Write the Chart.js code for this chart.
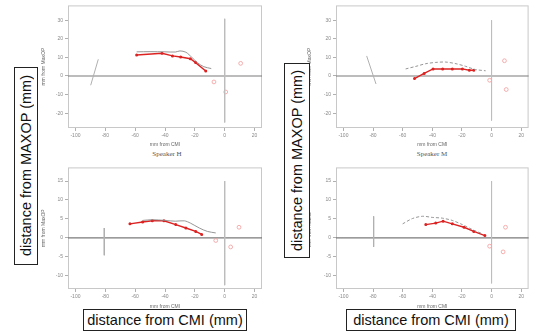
<!DOCTYPE html>
<html>
<head>
<meta charset="utf-8">
<script src="https://cdn.jsdelivr.net/npm/chart.js@4.4.1/dist/chart.umd.min.js"></script>
<style>
  body { margin: 0; background: #fff; width: 534px; height: 331px; overflow: hidden; position: relative; font-family: "Liberation Sans", Arial, sans-serif; }
  canvas { position: absolute; }
  .speaker { position: absolute; font-family: "Liberation Serif", "DejaVu Serif", serif; font-size: 7px; color: #555; transform: translateX(-50%); white-space: nowrap; }
  .bigbox { position: absolute; border: 1.5px solid #222; background: #fff; box-sizing: border-box; font-size: 14.5px; color: #111; display: flex; align-items: center; justify-content: center; white-space: nowrap; }
  .vert span { writing-mode: vertical-rl; transform: rotate(180deg); }
</style>
</head>
<body>
<canvas id="tl" width="228" height="150" style="left:40px;top:0px"></canvas>
<canvas id="tr" width="228" height="150" style="left:306px;top:0px"></canvas>
<canvas id="bl" width="228" height="150" style="left:40px;top:162px"></canvas>
<canvas id="br" width="228" height="150" style="left:306px;top:162px"></canvas>

<div class="speaker" style="left:167px;top:150px">Speaker H</div>
<div class="speaker" style="left:432px;top:150px">Speaker M</div>

<div class="bigbox vert" style="left:14px;top:67px;width:24px;height:198px"><span>distance from MAXOP (mm)</span></div>
<div class="bigbox vert" style="left:284px;top:63px;width:26px;height:195px"><span>distance from MAXOP (mm)</span></div>
<div class="bigbox" style="left:83px;top:309px;width:164px;height:22px">distance from CMI (mm)</div>
<div class="bigbox" style="left:346px;top:309px;width:170px;height:22px">distance from CMI (mm)</div>

<script>
// tick labels
const xTicks = [-100, -80, -60, -40, -20, 0, 20];
const yTicksTop = [30, 20, 10, 0, -10, -20];
const yTicksBottom = [15, 10, 5, 0, -5, -10];

// top left (Speaker H)
const tlShortX = [-89.8, -84.7];
const tlShortY = [-5, 9];
const tlVertX = [0, 0];
const tlVertY = [30.8, -25];
const tlGrayX = [-59, -50, -40, -33, -30, -26, -22, -18, -14, -9];
const tlGrayY = [13, 13.1, 13, 12.9, 13.5, 12.8, 10, 7, 5, 4];
const tlRedX = [-59, -42, -35, -29.5, -23, -19.5, -12.7];
const tlRedY = [11.3, 12.2, 10.8, 10.2, 9.3, 7.2, 2.7];
const tlDotX = [-7.2, 0.7, 10.7];
const tlDotY = [-3.2, -8.6, 6.8];

// top right (Speaker M)
const trShortX = [-84.3, -78];
const trShortY = [10.8, -4.3];
const trVertX = [0, 0];
const trVertY = [30, -24];
const trGrayX = [-58, -51, -44.5, -37.7, -31, -24, -17.5, -11, -4];
const trGrayY = [3.8, 5.2, 6.6, 7.3, 7.5, 6.6, 5.2, 3.5, 2.8];
const trRedX = [-52, -45.5, -39.5, -33, -26.5, -19.7, -15, -12];
const trRedY = [-1.4, 1.4, 3.8, 3.8, 3.8, 3.8, 3.1, 3.1];
const trDotX = [-1.3, 8.7, 9.9];
const trDotY = [-2.3, 8.2, -7.3];

// bottom left (Speaker H)
const blShortX = [-80.7, -80.7];
const blShortY = [2.6, -4.6];
const blVertX = [0, 0];
const blVertY = [15, -12.5];
const blGrayX = [-55, -48.5, -40, -33, -27, -23, -17, -11.6, -6];
const blGrayY = [4.6, 4.8, 4.6, 4.4, 4.5, 3.9, 2.6, 1.7, 1.3];
const blRedX = [-63.5, -55, -48.5, -40.7, -32.8, -26, -19.4, -15.4];
const blRedY = [3.7, 4.2, 4.5, 4.5, 3.5, 2.6, 1.7, 0.9];
const blDotX = [-6, 4, 9.6];
const blDotY = [-0.7, -2.4, 2.8];

// bottom right (Speaker M)
const brShortX = [-79.6, -79.6];
const brShortY = [5.7, -2.4];
const brVertX = [0, 0];
const brVertY = [15, -12];
const brGrayX = [-60, -53.4, -46.6, -40, -33.2, -26.5, -19.7, -13, -6.3];
const brGrayY = [3.7, 5.1, 5.7, 5.4, 5.2, 4.6, 3.5, 2.2, 1.1];
const brRedX = [-44.4, -37.7, -32.7, -26.5, -18.6, -12, -4.5];
const brRedY = [3.5, 3.9, 4.4, 3.7, 2.8, 1.7, 0.6];
const brDotX = [-1.3, 7.8, 9.4];
const brDotY = [-2.2, -3.7, 2.8];

const pts = (xs, ys) => xs.map((x, i) => ({ x: x, y: ys[i] }));

// box round the plot + zero line
const framePlugin = {
  id: "frame",
  beforeDatasetsDraw(chart) {
    const a = chart.chartArea;
    const ctx = chart.ctx;
    const y0 = chart.scales.y.getPixelForValue(0);
    ctx.save();
    ctx.strokeStyle = "#c8c8c8";
    ctx.lineWidth = 1;
    ctx.strokeRect(a.left + 0.5, a.top + 0.5, a.right - a.left - 1, a.bottom - a.top - 1);
    ctx.strokeStyle = "#7a7a7a";
    ctx.lineWidth = 1.2;
    ctx.beginPath();
    ctx.moveTo(a.left, y0);
    ctx.lineTo(a.right, y0);
    ctx.stroke();
    ctx.restore();
  },
};

function makeChart(id, d, opts) {
  const datasets = [
    { data: pts(d.shortX, d.shortY), showLine: true, borderColor: "#b0b0b0", borderWidth: 1, pointRadius: 0 },
    { data: pts(d.vertX, d.vertY), showLine: true, borderColor: "#bdbdbd", borderWidth: 1, pointRadius: 0 },
    { data: pts(d.grayX, d.grayY), showLine: true, borderColor: "#8a8a8a", borderWidth: 0.9,
      borderDash: opts.dashed ? [3, 2] : [], pointRadius: 0, tension: 0.3 },
    { data: pts(d.redX, d.redY), showLine: true, borderColor: "#dd2222", backgroundColor: "#dd2222",
      borderWidth: 1.4, pointRadius: 0.8 },
    { data: pts(d.dotX, d.dotY), showLine: false, borderColor: "#f29a9a", backgroundColor: "rgba(0,0,0,0)",
      borderWidth: 0.8, pointRadius: 1.9 },
  ];

  new Chart(document.getElementById(id), {
    type: "scatter",
    data: { datasets },
    options: {
      responsive: false,
      animation: false,
      layout: { padding: { top: 5, right: opts.padRight, left: 0, bottom: 0 } },
      plugins: { legend: { display: false }, tooltip: { enabled: false } },
      scales: {
        x: {
          type: "linear",
          min: -105,
          max: 25,
          afterBuildTicks: (s) => { s.ticks = xTicks.map((v) => ({ value: v })); },
          afterFit: (s) => { s.height = opts.xHeight; },
          ticks: { font: { size: 5 }, color: "#888", padding: 2, autoSkip: false, maxRotation: 0 },
          grid: { drawOnChartArea: false, tickLength: 3, color: "#b0b0b0" },
          border: { display: false },
          title: { display: true, text: "mm from CMI", font: { size: 5 }, color: "#666", padding: { top: 1, bottom: 2 } },
        },
        y: {
          type: "linear",
          min: opts.yMin,
          max: opts.yMax,
          afterBuildTicks: (s) => { s.ticks = opts.yTicks.map((v) => ({ value: v })); },
          afterFit: (s) => { s.width = opts.yWidth; },
          ticks: { font: { size: 5 }, color: "#888", padding: 2, autoSkip: false },
          grid: { drawOnChartArea: false, tickLength: 3, color: "#b0b0b0" },
          border: { display: false },
          title: { display: true, text: "mm from MaxOP", font: { size: 5 }, color: "#666", padding: 1 },
        },
      },
    },
    plugins: [framePlugin],
  });
}

makeChart("tl",
  { shortX: tlShortX, shortY: tlShortY, vertX: tlVertX, vertY: tlVertY, grayX: tlGrayX, grayY: tlGrayY,
    redX: tlRedX, redY: tlRedY, dotX: tlDotX, dotY: tlDotY },
  { dashed: false, yMin: -28, yMax: 38, yTicks: yTicksTop, yWidth: 28, xHeight: 22, padRight: 6 });

makeChart("tr",
  { shortX: trShortX, shortY: trShortY, vertX: trVertX, vertY: trVertY, grayX: trGrayX, grayY: trGrayY,
    redX: trRedX, redY: trRedY, dotX: trDotX, dotY: trDotY },
  { dashed: true, yMin: -28, yMax: 38, yTicks: yTicksTop, yWidth: 30, xHeight: 22, padRight: 4 });

makeChart("bl",
  { shortX: blShortX, shortY: blShortY, vertX: blVertX, vertY: blVertY, grayX: blGrayX, grayY: blGrayY,
    redX: blRedX, redY: blRedY, dotX: blDotX, dotY: blDotY },
  { dashed: false, yMin: -13.5, yMax: 18.6, yTicks: yTicksBottom, yWidth: 28, xHeight: 23, padRight: 6 });

makeChart("br",
  { shortX: brShortX, shortY: brShortY, vertX: brVertX, vertY: brVertY, grayX: brGrayX, grayY: brGrayY,
    redX: brRedX, redY: brRedY, dotX: brDotX, dotY: brDotY },
  { dashed: true, yMin: -13.5, yMax: 18.6, yTicks: yTicksBottom, yWidth: 30, xHeight: 23, padRight: 4 });
</script>
</body>
</html>
